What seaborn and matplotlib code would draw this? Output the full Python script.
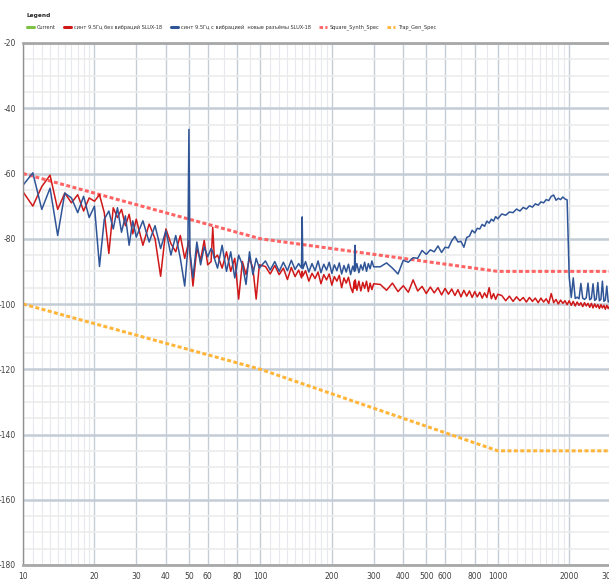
import numpy as np
import pandas as pd
import matplotlib
matplotlib.use('Agg')
import matplotlib.pyplot as plt
import matplotlib.ticker as mticker
from matplotlib.lines import Line2D
import seaborn as sns

# ------------- data -------------
freq_hz = [
    10, 11, 12, 13, 14, 15, 16, 17, 18, 19, 20, 21, 22, 23, 24, 25, 26, 27, 28, 29, 30,
    32, 34, 36, 38, 40, 42, 44, 46, 48, 49.5, 50, 50.5, 52, 54, 56, 58, 60,
    62, 63, 64, 66, 69, 72, 75, 78, 81, 84, 87, 90, 93, 96, 99,
    105, 110, 115, 120, 125, 130, 135, 140, 145, 149, 150, 151,
    155, 160, 165, 170, 175, 180, 185, 190, 195, 200, 205, 210, 215, 220, 225, 230, 235, 240, 245,
    249, 250, 251, 255, 260, 265, 270, 275, 280, 285, 290, 295, 300,
    320, 340, 360, 380, 400, 420, 440, 460, 480, 500, 520, 540, 560, 580, 600, 620, 640, 660,
    680, 700, 720, 740, 760, 780, 800, 820, 840, 860, 880, 900, 920, 940, 960, 980, 1000,
    1040, 1080, 1120, 1160, 1200, 1240, 1280, 1320, 1360, 1400, 1440, 1480, 1520, 1560, 1600,
    1640, 1680, 1720, 1760, 1800, 1840, 1880, 1920, 1960, 2000, 2040, 2080, 2120, 2160, 2200,
    2240, 2280, 2320, 2360, 2400, 2440, 2480, 2520, 2560, 2600, 2640, 2680, 2720, 2760, 2800,
    2840, 2880, 2920, 2960, 3000,
]

# синт 9.5Гц без вибраций
red_db = [
    -65.6, -70.0, -64.0, -60.5, -71.0, -66.0, -69.0, -66.5, -71.5, -67.5, -68.5, -66.5, -72.0,
    -84.5, -70.5, -73.5, -71.0, -76.0, -72.5, -78.5, -74.0,
    -82.0, -75.5, -80.0, -91.5, -77.0, -81.5, -84.0, -79.0, -86.0, -82.0, -80.5, -84.5, -94.5,
    -83.0, -86.5, -80.5, -88.0,
    -87.0, -76.5, -86.0, -85.0, -89.0, -84.0, -90.0, -86.0, -98.5, -87.0, -91.0, -86.0, -89.0,
    -98.5, -88.0,
    -88.5, -90.8, -88.2, -91.0, -89.0, -92.5, -88.8, -91.6, -89.6, -92.0, -90.0, -91.4,
    -89.8, -93.0, -90.6, -92.2, -90.2, -93.8, -91.0, -92.6, -90.8, -94.2, -91.6, -93.0,
    -91.2, -95.0, -92.0, -93.6, -91.8, -94.8, -96.5,
    -93.0, -95.2, -92.6, -95.8, -93.0, -96.0, -93.4, -95.2, -93.0, -96.2, -93.6, -95.6, -93.8,
    -94.0, -95.8, -93.6, -96.2, -94.4, -96.4, -92.6, -96.0, -94.6, -96.8, -94.8, -96.6, -95.0,
    -97.2, -95.2, -97.0, -95.4, -97.4, -95.6, -97.8, -95.8, -97.6, -96.0, -98.0, -96.2, -97.8,
    -96.4, -98.2, -96.6, -98.0, -95.0, -98.4, -96.8, -98.6, -97.0,
    -97.4, -99.0, -97.6, -99.2, -97.8, -99.0, -98.0, -99.4, -98.0, -99.2, -98.2, -99.6, -98.2,
    -99.4, -98.4, -99.8, -96.8, -99.6, -98.6, -100.0, -98.8, -99.8, -99.0, -100.2, -99.0, -100.4,
    -99.2, -100.6, -99.4, -100.4, -99.6, -100.8, -99.6, -100.6, -99.8, -101.0, -99.8, -101.2,
    -100.0, -101.0, -100.2, -101.4, -100.2, -101.2, -100.4, -101.6, -100.4, -101.4, -100.6, -101.6,
]

# синт 9.5Гц с вибрацией, новые разъёмы
blue_db = [
    -63.6, -59.8, -71.0, -64.5, -79.0, -66.0, -67.5, -72.0, -67.0, -73.5, -70.0, -88.5, -74.0,
    -71.5, -77.0, -70.5, -78.0, -73.0, -82.0, -74.5, -79.5,
    -74.5, -81.0, -76.0, -83.0, -77.5, -85.0, -79.0, -86.0, -94.5, -83.0, -46.5, -84.0, -92.0,
    -81.0, -88.0, -82.5, -85.5,
    -83.0, -84.0, -86.0, -89.0, -82.0, -90.0, -84.0, -92.0, -85.0, -88.0, -94.0, -84.0, -91.0,
    -86.0, -89.0,
    -86.8, -89.6, -87.0, -90.0, -87.2, -89.8, -86.6, -89.4, -87.6, -89.0, -73.3, -89.2,
    -87.0, -90.2, -87.6, -89.8, -86.8, -90.4, -87.8, -89.6, -87.2, -90.6, -88.0, -89.8,
    -87.4, -90.8, -88.2, -90.2, -87.8, -91.0, -88.4,
    -90.0, -82.0, -89.8, -87.6, -90.4, -88.0, -89.6, -87.2, -90.0, -87.6, -89.2, -86.8, -88.6,
    -88.6, -87.4, -89.0, -90.8, -86.6, -87.2, -85.8, -86.0, -83.6, -84.8, -83.4, -84.0, -82.2,
    -84.2, -82.6, -82.8, -80.6, -79.3, -81.0, -80.8, -82.6, -79.6, -79.2, -77.4, -78.2, -76.8,
    -77.0, -75.6, -76.2, -74.6, -75.2, -74.0, -74.6, -73.2, -73.9,
    -72.4, -72.8, -71.8, -72.0, -70.9, -71.5, -70.4, -70.9, -69.9, -70.3, -69.3, -69.7, -68.7,
    -69.0, -68.0, -68.3, -67.0, -66.6, -68.2, -67.6, -68.0, -67.2, -67.8, -68.1, -91.7, -98.0,
    -92.0, -98.3, -97.9, -98.4, -93.7, -98.2, -98.6, -98.1, -93.6, -98.7, -98.3, -93.8, -98.9,
    -98.5, -93.4, -99.0, -98.6, -93.0, -99.2, -98.8, -94.5, -99.4, -99.0, -99.6,
]

current_freq = []
current_db = []

spec_freq = [10, 100, 1000, 3000]
square_db = [-60, -80, -90, -90]
trap_db = [-100, -120, -145, -145]

x_ticks = [10, 20, 30, 40, 50, 60, 80, 100, 200, 300, 400, 500, 600, 800, 1000, 2000, 3000]
x_minor = [11, 12, 13, 14, 15, 16, 17, 18, 19, 70, 90,
           110, 120, 130, 140, 150, 160, 170, 180, 190, 700, 900,
           1100, 1200, 1300, 1400, 1500, 1600, 1700, 1800, 1900]

labels = ['Current',
          'синт 9.5Гц без вибраций SLUX-18',
          'синт 9.5Гц с вибрацией  новые разъёмы SLUX-18',
          'Square_Synth_Spec',
          'Trap_Gen_Spec']
colors = ['#7dc242', '#d01818', '#2f5597', '#ff6464', '#ffb53a']

# ------------- style -------------
sns.set_style('white')
plt.rcParams['font.family'] = ['Liberation Sans Narrow', 'DejaVu Sans']
plt.rcParams['axes.unicode_minus'] = False

df_red = pd.DataFrame({'f': freq_hz, 'db': red_db})
df_blue = pd.DataFrame({'f': freq_hz, 'db': blue_db})
df_spec = pd.DataFrame({'f': spec_freq, 'square': square_db, 'trap': trap_db})

fig = plt.figure(figsize=(6.09, 5.85), dpi=100)
ax = fig.add_axes([23 / 609, 20 / 585, 588 / 609, 522 / 585])
ax.set_xscale('log')

dash = (0, (1.3, 0.8))
ax.plot(current_freq, current_db, color=colors[0], lw=1.2)
sns.lineplot(data=df_spec, x='f', y='trap', ax=ax, color=colors[4], lw=2.2,
             linestyle=dash, estimator=None, sort=False)
sns.lineplot(data=df_spec, x='f', y='square', ax=ax, color=colors[3], lw=2.2,
             linestyle=dash, estimator=None, sort=False)
sns.lineplot(data=df_red, x='f', y='db', ax=ax, color=colors[1], lw=1.1,
             estimator=None, sort=False)
sns.lineplot(data=df_blue, x='f', y='db', ax=ax, color=colors[2], lw=1.1,
             estimator=None, sort=False)

ax.set_xlim(10, 3000)
ax.set_ylim(-180, -20)
ax.set_xlabel('')
ax.set_ylabel('')

ax.xaxis.set_major_locator(mticker.FixedLocator(x_ticks))
ax.xaxis.set_major_formatter(mticker.FixedFormatter([str(t) for t in x_ticks]))
ax.xaxis.set_minor_locator(mticker.FixedLocator(x_minor))
ax.xaxis.set_minor_formatter(mticker.NullFormatter())
ax.yaxis.set_major_locator(mticker.MultipleLocator(20))
ax.yaxis.set_minor_locator(mticker.MultipleLocator(5))

ax.set_axisbelow(True)
ax.grid(which='major', axis='x', color='#c4ccd6', lw=1.0)
ax.grid(which='minor', axis='x', color='#e6e9ee', lw=0.8)
ax.grid(which='major', axis='y', color='#c4ccd6', lw=1.8)
ax.grid(which='minor', axis='y', color='#ececec', lw=1.2)

for side in ['top', 'bottom']:
    ax.spines[side].set_color('#a8a8a8')
    ax.spines[side].set_linewidth(2)
ax.spines['left'].set_color('#909090')
ax.spines['left'].set_linewidth(1)
ax.spines['right'].set_visible(False)

ax.tick_params(axis='both', which='both', direction='out', length=2.5, width=0.8,
               color='#808080', labelsize=5.5, labelcolor='#404040', pad=2)
ax.tick_params(axis='both', which='major', length=3)

# ------------- legend -------------
handles = [Line2D([], [], color=colors[0], lw=2.2),
           Line2D([], [], color=colors[1], lw=2.2),
           Line2D([], [], color=colors[2], lw=2.2),
           Line2D([], [], color=colors[3], lw=2.0, linestyle=dash),
           Line2D([], [], color=colors[4], lw=2.0, linestyle=dash)]
leg = fig.legend(handles, labels, loc='upper left', bbox_to_anchor=(23 / 609, 1 - 9 / 585),
                 ncol=5, frameon=False, fontsize=3.6, title='Legend',
                 title_fontproperties={'weight': 'bold', 'size': 4.2},
                 handlelength=1.5, handletextpad=0.6, columnspacing=1.6,
                 alignment='left', borderpad=0.2, labelspacing=0.3)
leg._legend_box.sep = 5
for t in leg.get_texts():
    t.set_color('#303030')

plt.savefig('out.png', dpi=100)
plt.close()
